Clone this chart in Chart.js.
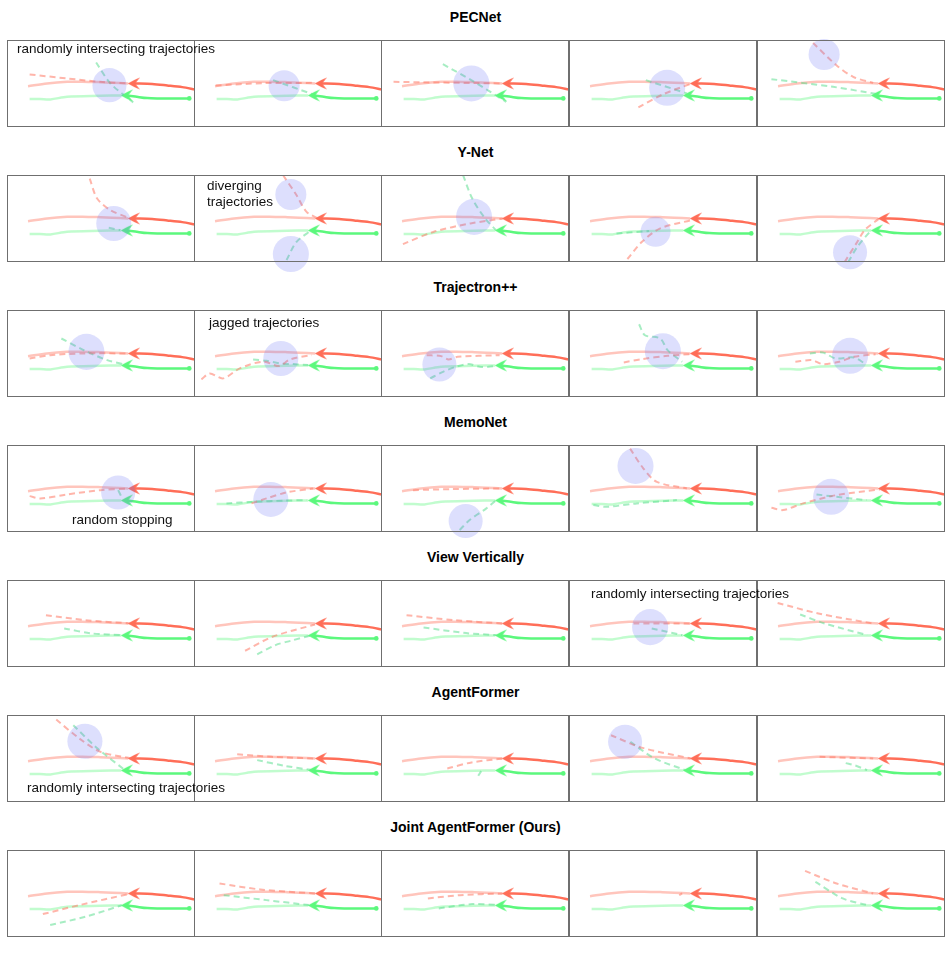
<!DOCTYPE html>
<html lang="en">
<head>
<meta charset="UTF-8">
<title>Trajectory predictions</title>
<script src="https://cdn.jsdelivr.net/npm/chart.js@4.4.1/dist/chart.umd.min.js"></script>
<style>
  body { margin: 0; background: #fff; }
  #fig { position: relative; width: 951px; height: 968px; font-family: "Liberation Sans", Arial, Helvetica, sans-serif; }
  .title { position: absolute; left: 0; width: 951px; text-align: center; font-weight: bold; font-size: 14px; line-height: 18px; color: #000; }
  .note { position: absolute; font-size: 13.5px; line-height: 16px; color: #111; white-space: nowrap; z-index: 5; }
  canvas { position: absolute; }
</style>
</head>
<body>
<div id="fig"></div>
<script>
// scene units (1 unit ~ 10px), y up. x 0..18.77, y 0..8.73
const rowTitles = ['PECNet', 'Y-Net', 'Trajectron++', 'MemoNet', 'View Vertically', 'AgentFormer', 'Joint AgentFormer (Ours)'];

// shared scene: observed history + ground truth future
const redHistory = [[18.77, 3.77], [17.5, 4.0], [16.0, 4.17], [14.5, 4.32], [12.65, 4.37]];
const redFuture = [[12.1, 4.37], [10.5, 4.45], [9.33, 4.5], [7.5, 4.55], [6.0, 4.53], [4.0, 4.37], [2.1, 4.1]];
const greenHistory = [[18.2, 2.87], [15.0, 2.87], [14.0, 2.9], [12.8, 3.05], [11.95, 3.15]];
const greenFuture = [[11.4, 3.17], [9.33, 3.13], [6.0, 3.03], [4.33, 2.77], [3.3, 2.8], [2.26, 2.8]];
const redArrow = [12.65, 4.37];
const greenArrow = [11.95, 3.17];
const greenStart = [18.2, 2.87];

// predictions, one list per row, one path per panel
const redPredictions = [
  [[[2.26, 5.27], [6.0, 4.87], [9.33, 4.53], [12.0, 4.37]],
   [[2.17, 4.17], [7.0, 4.4], [12.07, 4.43]],
   [[1.25, 4.53], [12.18, 4.37]],
   [[6.93, 1.97], [9.43, 3.3], [12.27, 4.37]],
   [[5.6, 8.43], [7.93, 6.2], [9.6, 5.03], [11.6, 4.43]]],
  [[[8.26, 8.37], [9.0, 6.37], [10.33, 5.2], [12.16, 4.43]],
   [[8.9, 8.7], [10.24, 6.7], [11.24, 5.03], [12.4, 4.37]],
   [[2.19, 1.8], [5.28, 3.03], [8.93, 3.87], [12.2, 4.37]],
   [[5.83, 0.3], [7.29, 2.03], [9.11, 3.37], [12.2, 4.2]],
   [[8.75, 0.0], [10.02, 2.03], [10.75, 3.2], [12.2, 4.37]]],
  [[[2.26, 3.87], [4.33, 4.2], [7.66, 4.37], [12.16, 4.37]],
   [[0.74, 1.77], [1.57, 2.37], [2.9, 1.87], [4.57, 2.87], [6.9, 3.55], [8.5, 3.1], [9.57, 3.77], [11.74, 4.2]],
   [[4.56, 4.2], [6.01, 4.1], [6.74, 3.77], [7.65, 4.03], [11.84, 4.2]],
   [[5.47, 3.47], [7.29, 3.8], [9.84, 4.13], [12.03, 4.3]],
   [[3.83, 3.53], [5.47, 3.7], [6.56, 3.3], [8.2, 3.53], [9.66, 4.03], [11.84, 4.3]]],
  [[[2.26, 3.6], [3.33, 3.37], [6.0, 3.77], [9.33, 4.2], [12.16, 4.37]],
   [[5.74, 2.87], [7.24, 3.37], [9.24, 3.97], [11.9, 4.37]],
   [[3.2, 4.2], [7.0, 4.3], [12.18, 4.37]],
   [[6.1, 8.37], [7.43, 6.37], [8.77, 5.03], [11.77, 4.37]],
   [[1.44, 2.43], [2.6, 2.2], [4.6, 2.87], [7.94, 3.7], [12.27, 4.27]]],
  [[[3.89, 5.2], [7.83, 4.7], [12.39, 4.37]],
   [[5.1, 1.63], [7.83, 3.03], [12.08, 4.27]],
   [[2.55, 5.2], [7.29, 4.7], [12.14, 4.37]],
   [[6.44, 4.37], [12.2, 4.37]],
   [[2.06, 6.43], [6.13, 5.37], [11.6, 4.37]]],
  [[[4.92, 8.27], [7.23, 6.37], [9.35, 5.03], [12.39, 4.37]],
   [[4.31, 4.8], [7.77, 4.53], [12.08, 4.37]],
   [[6.62, 3.37], [9.04, 3.97], [12.14, 4.37]],
   [[4.19, 6.7], [7.35, 5.43], [12.2, 4.37]],
   [[6.25, 4.53], [11.6, 4.37]]],
  [[[3.58, 2.3], [7.23, 3.2], [12.39, 4.37]],
   [[2.55, 5.37], [6.62, 4.77], [12.08, 4.37]],
   [[4.68, 3.87], [7.89, 4.2], [12.14, 4.37]],
   [[11.0, 4.2], [11.3, 4.37]],
   [[4.8, 6.63], [7.95, 5.37], [11.6, 4.37]]]
];

const greenPredictions = [
  [[[8.9, 6.47], [10.33, 4.37], [12.6, 2.47]],
   [[7.9, 4.7], [11.9, 3.27]],
   [[6.18, 6.3], [9.18, 4.6], [12.5, 2.53]],
   [[7.67, 4.7], [11.77, 3.37]],
   [[1.44, 4.8], [7.6, 4.03], [12.0, 3.3]]],
  [[[10.16, 3.43], [11.3, 3.2]],
   [[9.24, 0.2], [10.24, 2.03], [11.74, 3.2]],
   [[8.2, 8.7], [9.11, 6.37], [10.39, 4.37], [11.48, 3.2]],
   [[4.74, 2.87], [8.0, 3.1]],
   [[9.11, 0.0], [10.0, 1.5], [11.4, 3.2]]],
  [[[5.43, 5.87], [7.66, 4.7], [10.0, 3.7], [12.0, 3.2]],
   [[5.9, 3.77], [7.24, 3.63], [8.57, 3.37], [9.9, 3.3], [11.4, 3.2]],
   [[4.92, 1.87], [6.19, 2.53], [7.47, 3.03], [8.75, 3.3], [9.84, 3.03], [10.75, 3.03], [11.84, 3.2]],
   [[7.0, 7.3], [7.58, 6.2], [9.11, 5.87], [9.84, 4.7], [11.3, 3.53]],
   [[5.28, 4.37], [6.56, 4.47], [7.84, 3.87], [9.66, 3.97], [10.75, 3.37]]],
  [[[11.1, 4.2], [11.5, 3.37]],
   [[3.24, 2.87], [6.0, 3.03], [9.0, 3.15], [11.24, 3.2]],
   [[7.85, 0.2], [8.85, 1.2], [10.52, 2.37], [11.5, 3.2]],
   [[2.43, 2.7], [3.77, 2.53], [6.77, 2.87], [10.77, 3.2]],
   [[5.94, 3.77], [7.94, 3.53], [10.94, 3.2]]],
  [[[5.71, 3.87], [8.44, 3.37], [11.78, 3.2]],
   [[6.31, 1.27], [8.14, 2.2], [9.65, 2.63], [11.78, 3.2]],
   [[4.25, 3.97], [8.5, 3.4], [11.54, 3.2]],
   [[8.26, 3.87], [11.3, 3.2]],
   [[4.31, 5.27], [6.74, 4.37], [10.99, 3.2]]],
  [[[6.62, 7.7], [9.04, 5.37], [11.78, 3.2]],
   [[6.31, 4.2], [9.05, 3.63], [11.78, 3.2]],
   [[9.71, 2.63], [10.0, 3.1]],
   [[6.13, 6.03], [8.56, 4.37], [11.6, 3.2]],
   [[8.86, 3.9], [9.78, 3.67], [10.99, 3.2]]],
  [[[4.31, 1.2], [7.83, 2.03], [11.5, 3.2]],
   [[2.97, 4.2], [7.23, 3.7], [11.48, 3.2]],
   [[5.77, 2.87], [9.11, 3.3], [11.84, 3.2]],
   [],
   [[5.83, 5.53], [8.56, 3.87], [10.99, 3.2]]]
];

// highlighted regions: [x, y, radius] in scene units
const highlights = [
  [[[10.23, 4.2, 1.7]], [[9.0, 4.13, 1.55]], [[9.02, 4.37, 1.8]], [[9.8, 3.93, 1.8]], [[6.7, 7.27, 1.55]]],
  [[[10.66, 3.87, 1.75]], [[9.67, 6.77, 1.55], [9.67, 0.8, 1.8]], [[9.29, 4.53, 1.8]], [[8.64, 3.03, 1.5]], [[9.29, 0.97, 1.7]]],
  [[[7.93, 4.53, 1.8]], [[8.67, 3.87, 1.75]], [[5.83, 3.27, 1.7]], [[9.37, 4.6, 1.8]], [[9.29, 4.13, 1.8]]],
  [[[11.1, 3.97, 1.7]], [[7.67, 3.27, 1.75]], [[8.45, 1.1, 1.7]], [[6.64, 6.63, 1.8]], [[7.4, 3.53, 1.8]]],
  [[], [], [], [[8.1, 4.0, 1.8]], []],
  [[[7.78, 6.1, 1.75]], [], [], [[5.6, 6.05, 1.7]], []],
  [[], [], [], [], []]
];

// layout
const rowTop = [40, 175, 310, 445, 580, 715, 850];
const colLeft = [7, 194, 381, 569, 757];
const PW = 188, PH = 87, PAD = 16;

const notes = [
  { text: 'randomly intersecting trajectories', left: 17, top: 41 },
  { text: 'diverging<br>trajectories', left: 207, top: 178 },
  { text: 'jagged trajectories', left: 209, top: 315 },
  { text: 'random stopping', left: 72, top: 512 },
  { text: 'randomly intersecting trajectories', left: 591, top: 586 },
  { text: 'randomly intersecting trajectories', left: 27, top: 780 }
];

const RED = 'rgb(255,110,88)';
const RED_LIGHT = 'rgba(255,110,88,0.4)';
const RED_DASH = 'rgba(255,120,100,0.55)';
const GREEN = 'rgb(92,248,125)';
const GREEN_LIGHT = 'rgba(92,248,125,0.38)';
const GREEN_DASH = 'rgba(80,220,135,0.5)';
const BLUE = 'rgba(100,110,245,0.22)';

function makeArrow(color) {
  const c = document.createElement('canvas');
  c.width = 12; c.height = 13;
  const g = c.getContext('2d');
  g.fillStyle = color;
  g.beginPath();
  g.moveTo(0, 6.5);
  g.quadraticCurveTo(6, 3, 12, 0.5);
  g.lineTo(7.5, 6.5);
  g.lineTo(12, 12.5);
  g.quadraticCurveTo(6, 10, 0, 6.5);
  g.closePath();
  g.fill();
  return c;
}
const redArrowImg = makeArrow(RED);
const greenArrowImg = makeArrow(GREEN);

const pts = a => a.map(([x, y]) => ({ x, y }));

const frame = {
  id: 'frame',
  afterDraw(chart) {
    const { ctx, chartArea: a } = chart;
    ctx.save();
    ctx.strokeStyle = '#6f6f6f';
    ctx.lineWidth = 1;
    ctx.strokeRect(a.left + 0.5, a.top + 0.5, a.right - a.left - 1, a.bottom - a.top - 1);
    ctx.restore();
  }
};

function line(data, color, width, dash, order) {
  return {
    type: 'line', data: pts(data), borderColor: color, borderWidth: width,
    borderDash: dash, pointRadius: 0, tension: 0.3, fill: false, order
  };
}

const fig = document.getElementById('fig');

rowTitles.forEach((t, r) => {
  const d = document.createElement('div');
  d.className = 'title';
  d.style.top = (rowTop[r] - 32) + 'px';
  d.textContent = t;
  fig.appendChild(d);

  colLeft.forEach((x0, c) => {
    const cv = document.createElement('canvas');
    cv.width = PW; cv.height = PH + 2 * PAD;
    cv.style.left = x0 + 'px';
    cv.style.top = (rowTop[r] - PAD) + 'px';
    cv.style.width = PW + 'px';
    cv.style.height = (PH + 2 * PAD) + 'px';
    fig.appendChild(cv);

    const datasets = [
      {
        type: 'scatter',
        data: highlights[r][c].map(([x, y, s]) => ({ x, y, s })),
        pointRadius: ctx => {
          if (!ctx.raw) return 0;
          const sx = ctx.chart.scales.x;
          return sx.getPixelForValue(ctx.raw.s) - sx.getPixelForValue(0);
        },
        pointBackgroundColor: BLUE, pointBorderWidth: 0, clip: false, order: 0
      },
      { type: 'scatter', data: pts([redArrow]), pointStyle: redArrowImg, order: 1 },
      { type: 'scatter', data: pts([greenArrow]), pointStyle: greenArrowImg, order: 1 },
      { type: 'scatter', data: pts([greenStart]), pointRadius: 2.3, pointBackgroundColor: GREEN, pointBorderWidth: 0, order: 1 },
      line(redHistory, RED, 2.5, [], 2),
      line(greenHistory, GREEN, 2.5, [], 2),
      line(redPredictions[r][c], RED_DASH, 2, [6, 4], 3),
      line(greenPredictions[r][c], GREEN_DASH, 2, [6, 4], 3),
      line(redFuture, RED_LIGHT, 2.5, [], 4),
      line(greenFuture, GREEN_LIGHT, 2.5, [], 4)
    ];

    new Chart(cv, {
      type: 'line',
      data: { datasets },
      options: {
        responsive: false,
        animation: false,
        events: [],
        layout: { autoPadding: false, padding: { top: PAD, bottom: PAD, left: 0, right: 0 } },
        scales: {
          x: { type: 'linear', min: 0, max: 18.77, display: false },
          y: { type: 'linear', min: 0, max: 8.73, display: false }
        },
        plugins: { legend: { display: false }, tooltip: { enabled: false } }
      },
      plugins: [frame]
    });
  });
});

notes.forEach(n => {
  const d = document.createElement('div');
  d.className = 'note';
  d.style.left = n.left + 'px';
  d.style.top = n.top + 'px';
  d.innerHTML = n.text;
  fig.appendChild(d);
});
</script>
</body>
</html>
